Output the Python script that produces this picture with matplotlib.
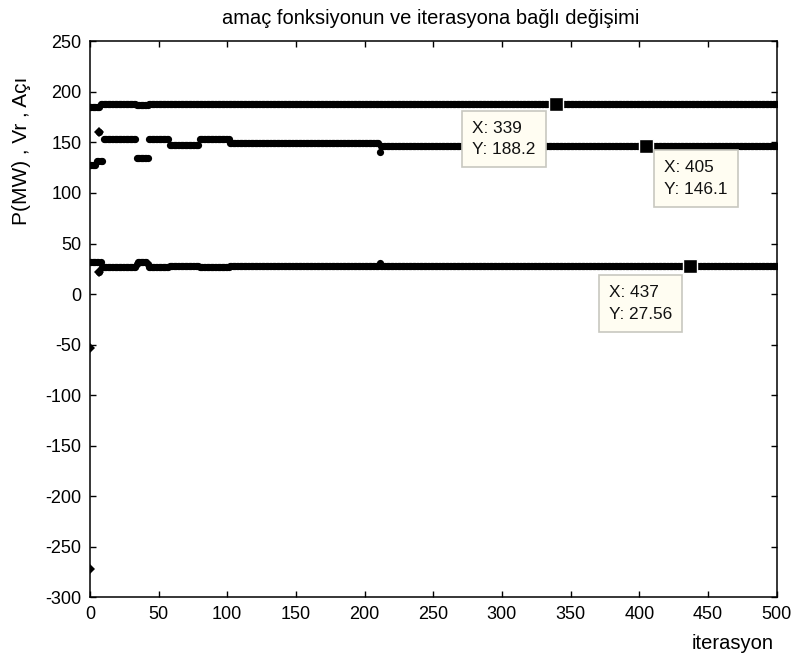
import numpy as np
import matplotlib.pyplot as plt

plt.rcParams['font.family'] = ['Liberation Sans', 'DejaVu Sans']
plt.rcParams['axes.unicode_minus'] = False

iterasyon = np.arange(0, 501)

# (first iteration, level) pairs; each level is held until the next pair
p_steps = [(0, 185.5), (8, 188.2), (34, 186.9), (43, 188.2)]
vr_steps = [(0, 127.5), (5, 131.5), (10, 153.3), (34, 134.8), (43, 153.3),
            (58, 147.7), (80, 153.3), (102, 149.4), (211, 140.4), (212, 146.1)]
aci_steps = [(0, 31.5), (9, 27.0), (34, 29.5), (35, 31.5), (42, 29.5),
             (43, 26.5), (58, 28.0), (80, 26.5), (102, 27.56), (211, 30.5),
             (212, 27.56)]

# single outlying points (iteration, value)
vr_spike = (7, 160.3)
aci_spike = (7, 21.5)

# starting values at iteration 0
baslangic_x = [0, 0]
baslangic_y = [-53, -272]

# data tips
tip_x = [339, 405, 437]
tip_y = [188.2, 146.1, 27.56]
tip_offsets = [(-20, -17, 'right'), (18, -14, 'left'), (-18, -19, 'right')]


def expand(steps, spike=None):
    vals = np.empty(len(iterasyon))
    for i, (start, level) in enumerate(steps):
        end = steps[i + 1][0] if i + 1 < len(steps) else len(iterasyon)
        vals[start:end] = level
    if spike is not None:
        vals[spike[0]] = spike[1]
    return vals


p = expand(p_steps)
vr = expand(vr_steps, vr_spike)
aci = expand(aci_steps, aci_spike)

fig = plt.figure(figsize=(7.95, 6.57), dpi=100)
ax = fig.add_axes([0.113, 0.091, 0.864, 0.846])

for series in (p, vr, aci):
    ax.plot(iterasyon, series, 'o', color='k', ms=5.2, mew=0)

# lone points drawn as small diamonds
lone_x = [vr_spike[0], aci_spike[0]] + baslangic_x
lone_y = [vr_spike[1], aci_spike[1]] + baslangic_y
ax.plot(lone_x, lone_y, 'D', color='k', ms=5, mew=0)

# data tip markers and boxes
ax.plot(tip_x, tip_y, 's', color='k', ms=9.5, mec='white', mew=1, zorder=5)
for x, y, (dx, dy, ha) in zip(tip_x, tip_y, tip_offsets):
    ax.annotate(f'X: {x}\nY: {y:g}', xy=(x, y), xytext=(dx, dy),
                textcoords='offset pixels', ha=ha, va='top', fontsize=12.4,
                multialignment='left', linespacing=1.55, color='#111111',
                bbox=dict(boxstyle='square,pad=0.58', fc='#FFFDF2',
                          ec='#C8C8C0', lw=1.2), zorder=6)

ax.set_xlim(0, 500)
ax.set_ylim(-300, 250)
ax.set_xticks(np.arange(0, 501, 50))
ax.set_yticks(np.arange(-300, 251, 50))
ax.tick_params(direction='in', length=4.5, width=1, labelsize=13,
               top=True, right=True, pad=6)
for sp in ax.spines.values():
    sp.set_linewidth(1.1)

fig.text(0.542, 0.9726, 'amaç fonksiyonun ve iterasyona bağlı değişimi',
         ha='center', va='center', fontsize=14.5)
fig.text(0.0273, 0.770, 'P(MW) , Vr , Açı', rotation=90,
         ha='center', va='center', fontsize=15)
fig.text(0.922, 0.021, 'iterasyon', ha='center', va='center', fontsize=14.5)

fig.savefig('out.png', dpi=100, facecolor='white')
